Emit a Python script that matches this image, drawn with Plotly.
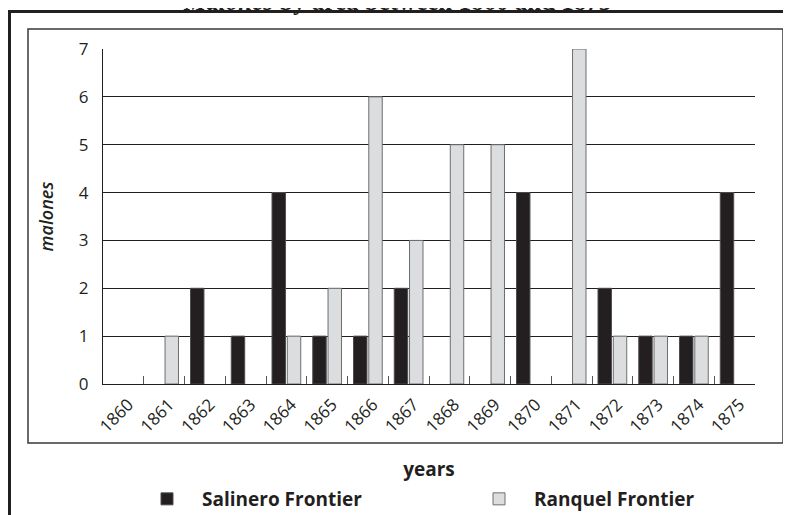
import plotly.graph_objects as go

years = ["1860", "1861", "1862", "1863", "1864", "1865", "1866", "1867",
         "1868", "1869", "1870", "1871", "1872", "1873", "1874", "1875"]
salinero = [0, 0, 2, 1, 4, 1, 1, 2, 0, 0, 4, 0, 2, 1, 1, 4]
ranquel = [0, 1, 0, 0, 1, 2, 6, 3, 5, 5, 0, 7, 1, 1, 1, 0]
y_ticks = [0, 1, 2, 3, 4, 5, 6, 7]

W, H = 791, 515
OFF = 8  # page body margin
# plot area in page pixels: x 103..755, y 49..384
L = 103 - OFF
T = 49 - OFF
R = W - (755 - OFF)
B = H - (384 - OFF)
PW, PH = W - L - R, H - T - B


def px(x):
    """page x pixel -> paper fraction"""
    return (x - OFF - L) / PW


def py(y):
    """page y pixel -> paper fraction"""
    return (H - B - (y - OFF)) / PH


def nz(vals):
    return [v if v else None for v in vals]


font = "Open Sans"
ink = "#231f20"

fig = go.Figure()
fig.add_trace(go.Bar(
    x=years, y=nz(salinero), name="Salinero Frontier", legend="legend",
    marker=dict(color=ink, line=dict(color="#4d4d4f", width=1)),
))
fig.add_trace(go.Bar(
    x=years, y=nz(ranquel), name="Ranquel Frontier", legend="legend2",
    marker=dict(color="#dcdddf", line=dict(color="#6d6e71", width=1)),
))

leg_common = dict(
    orientation="h", yanchor="middle", xanchor="left", itemwidth=60,
    font=dict(family=font, size=19, color=ink, weight="bold"),
    bgcolor="rgba(0,0,0,0)", borderwidth=0,
)

fig.update_layout(
    width=W, height=H,
    margin=dict(l=L, r=R, t=T, b=B, autoexpand=False),
    paper_bgcolor="white", plot_bgcolor="white",
    barmode="group", bargap=0.25, bargroupgap=0.12,
    showlegend=True,
    legend=dict(x=px(132), y=py(499), **leg_common),
    legend2=dict(x=px(464), y=py(499), **leg_common),
    xaxis=dict(
        type="category", tickson="boundaries", ticks="inside", ticklen=8,
        tickcolor="#555555", tickwidth=1,
        showline=True, linecolor=ink, linewidth=1,
        showgrid=False, tickangle=-45,
        tickfont=dict(family=font, size=17, color=ink),
        ticklabelshift=5, ticklabelstandoff=3,
        range=[-0.5, 15.5], fixedrange=True,
        title=dict(text="years", font=dict(family=font, size=19, color=ink, weight="bold"),
                   standoff=26),
    ),
    yaxis=dict(
        range=[0, 7], tickvals=y_ticks, ticktext=[str(v) for v in y_ticks],
        showline=True, linecolor=ink, linewidth=1,
        showgrid=True, gridcolor=ink, gridwidth=1,
        ticks="", ticklabelstandoff=10,
        tickfont=dict(family=font, size=17, color=ink),
        zeroline=False, fixedrange=True,
        title=dict(text="<i>malones</i>", font=dict(family=font, size=18, color=ink, weight=600),
                   standoff=20),
    ),
    shapes=[
        dict(type="rect", xref="paper", yref="paper",
             x0=px(28), x1=px(783), y0=py(443), y1=py(29),
             line=dict(color="#3a3a3a", width=1.5), layer="below"),
        dict(type="rect", xref="paper", yref="paper",
             x0=px(9.5), x1=px(830), y0=py(570), y1=py(11.5),
             line=dict(color=ink, width=3), layer="below"),
    ],
    annotations=[
        dict(text="<i>Malones</i> by area between 1860 and 1875",
             xref="paper", yref="paper", x=px(397), y=py(17),
             xanchor="center", yanchor="bottom", showarrow=False,
             font=dict(family="Liberation Serif", size=25, color=ink, weight="bold")),
    ],
)

fig.write_html("out.html")
